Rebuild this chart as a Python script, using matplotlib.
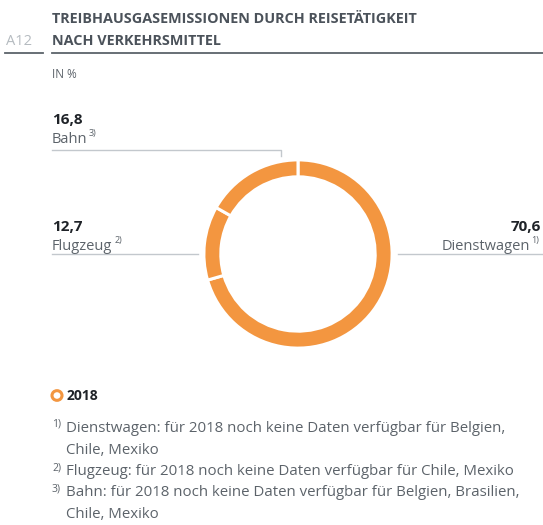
import matplotlib.pyplot as plt
from matplotlib.lines import Line2D
from matplotlib.patches import Circle

plt.rcParams['font.family'] = ['Open Sans', 'DejaVu Sans']

# Emissionsanteile nach Verkehrsmittel (in %)
categories = ['Dienstwagen', 'Flugzeug', 'Bahn']
shares = [70.6, 12.7, 16.8]
share_labels = ['70,6', '12,7', '16,8']
footnote_marks = ['1)', '2)', '3)']
footnotes = [
    'Dienstwagen: für 2018 noch keine Daten verfügbar für Belgien,\nChile, Mexiko',
    'Flugzeug: für 2018 noch keine Daten verfügbar für Chile, Mexiko',
    'Bahn: für 2018 noch keine Daten verfügbar für Belgien, Brasilien,\nChile, Mexiko',
]
year = '2018'

W, H = 543, 525
ORANGE = '#f39640'
DARK = '#1f2328'
GREY = '#5c636a'
RULE = '#c3c8cd'

fig = plt.figure(figsize=(W / 100, H / 100), dpi=100)


def fx(x):
    return x / W


def fy(y):
    return 1 - y / H


def text(x, y, s, **kw):
    fig.text(fx(x), fy(y), s, **kw)


def line(xs, ys, color=RULE, lw=1.0):
    fig.add_artist(Line2D([fx(v) for v in xs], [fy(v) for v in ys],
                          color=color, lw=lw, transform=fig.transFigure))


# Kopfzeile
text(6, 45, 'A12', color='#b5bbc0', fontsize=10.5, va='baseline')
text(52, 23, 'TREIBHAUSGASEMISSIONEN DURCH REISETÄTIGKEIT', color='#4b525a',
     fontsize=10.4, fontweight='bold', va='baseline')
text(52, 45, 'NACH VERKEHRSMITTEL', color='#4b525a',
     fontsize=10.4, fontweight='bold', va='baseline')
line([5, 43], [53, 53], color='#5c636a', lw=1.3)
line([52, 543], [53, 53], color='#5c636a', lw=1.3)
text(52, 78, 'IN %', color=GREY, fontsize=8.5, va='baseline')

# Ring
cx, cy, r = 298, 254, 96
ax = fig.add_axes([fx(cx - r), fy(cy + r), 2 * r / W, 2 * r / H])
ax.pie(shares, startangle=90, counterclock=False, colors=[ORANGE] * 3,
       radius=1.0,
       wedgeprops=dict(width=0.18, edgecolor='white', linewidth=2.2))
ax.set_xlim(-1.02, 1.02)
ax.set_ylim(-1.02, 1.02)
ax.set_aspect('equal')
ax.axis('off')

# Beschriftungen
i_car, i_air, i_rail = 0, 1, 2
text(52, 124, share_labels[i_rail], color=DARK, fontsize=11,
     fontweight='bold', va='baseline')
text(52, 143, categories[i_rail], color=GREY, fontsize=10.5, va='baseline')
text(89, 136, footnote_marks[i_rail], color=GREY, fontsize=6.5, va='baseline')
line([52, 281, 281], [150, 150, 156])

text(52, 231, share_labels[i_air], color=DARK, fontsize=11,
     fontweight='bold', va='baseline')
text(52, 250, categories[i_air], color=GREY, fontsize=10.5, va='baseline')
text(115, 243, footnote_marks[i_air], color=GREY, fontsize=6.5, va='baseline')
line([52, 198], [253.5, 253.5])

text(541, 231, share_labels[i_car], color=DARK, fontsize=11,
     fontweight='bold', va='baseline', ha='right')
text(530, 250, categories[i_car], color=GREY, fontsize=10.5, va='baseline',
     ha='right')
text(531, 243, footnote_marks[i_car], color=GREY, fontsize=6.5, va='baseline')
line([398, 543], [253.5, 253.5])

# Legende
fig.add_artist(Circle((fx(57), fy(395.5)), 5 / W, transform=fig.transFigure,
                      fill=False, edgecolor=ORANGE, lw=2.2))
text(67, 400, year, color=DARK, fontsize=10, fontweight='bold', va='baseline')

# Fußnoten
y = 432
for mark, note in zip(footnote_marks, footnotes):
    text(52, y - 5, mark, color=GREY, fontsize=7.5, va='baseline')
    for k, part in enumerate(note.split('\n')):
        text(66, y, part, color=GREY, fontsize=10.8, va='baseline')
        y += 21.5

fig.savefig('out.png', dpi=100)
